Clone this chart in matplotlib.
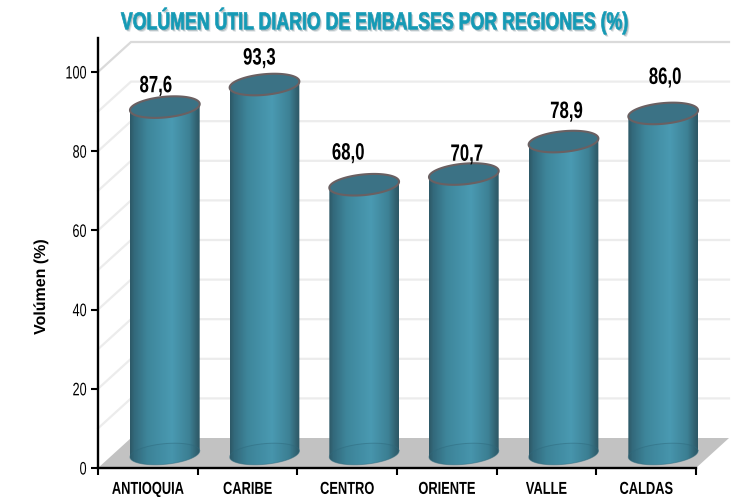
import numpy as np
import matplotlib
matplotlib.use("Agg")
import matplotlib.pyplot as plt
import matplotlib.patheffects as pe
from matplotlib.colors import LinearSegmentedColormap, to_rgb
from matplotlib.patches import Polygon, PathPatch
from matplotlib.path import Path
from matplotlib.transforms import Affine2D

categories = ["ANTIOQUIA", "CARIBE", "CENTRO", "ORIENTE", "VALLE", "CALDAS"]
values = [87.6, 93.3, 68.0, 70.7, 78.9, 86.0]
value_labels = ["87,6", "93,3", "68,0", "70,7", "78,9", "86,0"]
yticks = [0, 20, 40, 60, 80, 100]
grid_levels = [10, 20, 30, 40, 50, 60, 70, 80, 90, 100]
label_dx = [-0.09, -0.05, -0.16, 0.03, 0.03, 0.02]
label_dy = [5.4, 6.7, 8.0, 5.0, 7.6, 9.1]

plt.rcParams['font.family'] = ['Liberation Sans', 'DejaVu Sans']


class Narrow(pe.AbstractPathEffect):
    """Condense text horizontally around its centre or right end."""

    def __init__(self, s, anchor='center', shadow=False, stroke=0.0):
        super().__init__()
        self.s, self.anchor, self.shadow, self.stroke = s, anchor, shadow, stroke

    def draw_path(self, renderer, gc, tpath, affine, rgbFace=None):
        ext = tpath.get_extents()
        a = ext.x1 if self.anchor == 'right' else (ext.x0 + ext.x1) / 2
        aff = Affine2D().translate(-a, 0).scale(self.s, 1).translate(a, 0) + affine
        if self.shadow:
            for off, col in [((2.0, -2.5), '#dfe4e6'), ((1.2, -1.6), '#b4bfc3')]:
                renderer.draw_path(gc, tpath, aff + Affine2D().translate(*off), to_rgb(col))
        gc0 = renderer.new_gc()
        gc0.copy_properties(gc)
        if self.stroke:
            gc0.set_linewidth(self.stroke)
            gc0.set_foreground(rgbFace)
        renderer.draw_path(gc0, tpath, aff, rgbFace)
        gc0.restore()


W, H = 743, 497
L, R, B, T = 98, 730, 468, 38
PXX, PXY = 99.67, 3.96
fig = plt.figure(figsize=(W / 100, H / 100), dpi=100)
fig.patch.set_facecolor('white')
ax = fig.add_axes([L / W, 1 - B / H, (R - L) / W, (B - T) / H])
ax.set_xlim(-0.5, -0.5 + (R - L) / PXX)
ax.set_ylim(0, (B - T) / PXY)
ax.patch.set_alpha(0)

DX = 33 / PXX
DY = 30 / PXY
CX = 17 / PXX
CY = 14 / PXY
n = len(categories)
x0, x1 = -0.5, n - 0.5

ax.add_patch(Polygon([(x0, 0), (x0 + DX, DY), (x1 + DX, DY), (x1, 0)],
                     fc='#c2c2c2', ec='none', zorder=1))
for g in grid_levels:
    c = '#dadada' if g == 100 else '#ececec'
    ax.plot([x0, x0 + DX, x1 + DX], [g, g + DY, g + DY], color=c, lw=1.6, zorder=1,
            solid_joinstyle='miter', clip_on=False)

cmap = LinearSegmentedColormap.from_list('cyl', [
    (0.0, '#2d5866'), (0.06, '#33697b'), (0.25, '#3e869b'),
    (0.60, '#4a9ab2'), (0.85, '#3d8195'), (0.96, '#31606f'), (1.0, '#2d5765')])
grad = np.linspace(0, 1, 256).reshape(1, -1)

RX_PX, RY_PX = 35.0, 10.3
TILT = np.radians(5.5)
t = np.linspace(0, 2 * np.pi, 120)


def ellipse(cx, cy, tt):
    ex = RX_PX * np.cos(tt) * np.cos(TILT) - RY_PX * np.sin(tt) * np.sin(TILT)
    ey = RX_PX * np.cos(tt) * np.sin(TILT) + RY_PX * np.sin(tt) * np.cos(TILT)
    return cx + ex / PXX, cy + ey / PXY


for i, v in enumerate(values):
    cx = i + CX
    by = CY
    ty = v + CY
    tb = np.linspace(np.pi, 2 * np.pi, 60)
    xb, yb = ellipse(cx, by, tb)
    tt = np.linspace(0, np.pi, 60)
    xt, yt = ellipse(cx, ty, tt)
    verts = np.vstack([np.c_[xb, yb], np.c_[xt, yt], [[xb[0], yb[0]]]])
    path = Path(verts, closed=True)
    rx, ry = RX_PX / PXX, (RY_PX + 4) / PXY
    im = ax.imshow(grad, cmap=cmap, aspect='auto', zorder=3, interpolation='bilinear',
                   extent=[cx - rx, cx + rx, by - ry, ty + ry])
    clip = PathPatch(path, transform=ax.transData, fc='none', ec='none')
    ax.add_patch(clip)
    im.set_clip_path(clip)
    xe, ye = ellipse(cx, by, t)
    ax.add_patch(Polygon(np.c_[xe, ye], closed=True, fc='#2f6a7d', alpha=0.10, ec='none', zorder=4))
    ax.plot(xe, ye, color='#2f6a7d', lw=0.7, alpha=0.5, zorder=4)
    xc, yc = ellipse(cx, ty, t)
    ax.add_patch(Polygon(np.c_[xc, yc], closed=True, fc='#3b7285', ec='#6a6062', lw=1.5, zorder=5))
    ax.text(cx + label_dx[i], v + label_dy[i] + CY, value_labels[i], ha='center', va='center',
            fontsize=17, fontweight='bold', color='black', zorder=6,
            path_effects=[Narrow(0.71)])

ax.set_xlim(-0.5, -0.5 + (R - L) / PXX)
ax.set_ylim(0, (B - T) / PXY)

for s in ['top', 'right']:
    ax.spines[s].set_visible(False)
ax.spines['left'].set_linewidth(1.7)
ax.spines['bottom'].set_linewidth(1.7)
ax.spines['bottom'].set_bounds(x0, x1)
ax.set_yticks(yticks)
ax.set_yticklabels([str(y) for y in yticks], fontsize=13, path_effects=[Narrow(0.70, 'right')])
ax.tick_params(axis='y', length=5, width=1.5, pad=3)
ax.set_xticks(range(n))
ax.set_xticklabels(categories, fontsize=12.5, fontweight='bold', path_effects=[Narrow(0.74)])
ax.tick_params(axis='x', length=0, pad=10)
ax.set_xticks(np.arange(n + 1) - 0.5, minor=True)
ax.tick_params(axis='x', which='minor', length=5, width=1.5)
ax.set_ylabel('Volúmen (%)', fontsize=11.5, fontweight='bold', path_effects=[Narrow(1.0)])
ax.yaxis.set_label_coords((48 - L) / (R - L), (B - 287) / (B - T))

fig.text(374 / W, 1 - 21 / H, 'VOLÚMEN ÚTIL DIARIO DE EMBALSES POR REGIONES (%)', ha='center', va='center',
         fontsize=17.5, fontweight='bold', color='#159ab5',
         path_effects=[Narrow(0.73, shadow=True, stroke=0.5)])
fig.savefig('out.png', dpi=100)
